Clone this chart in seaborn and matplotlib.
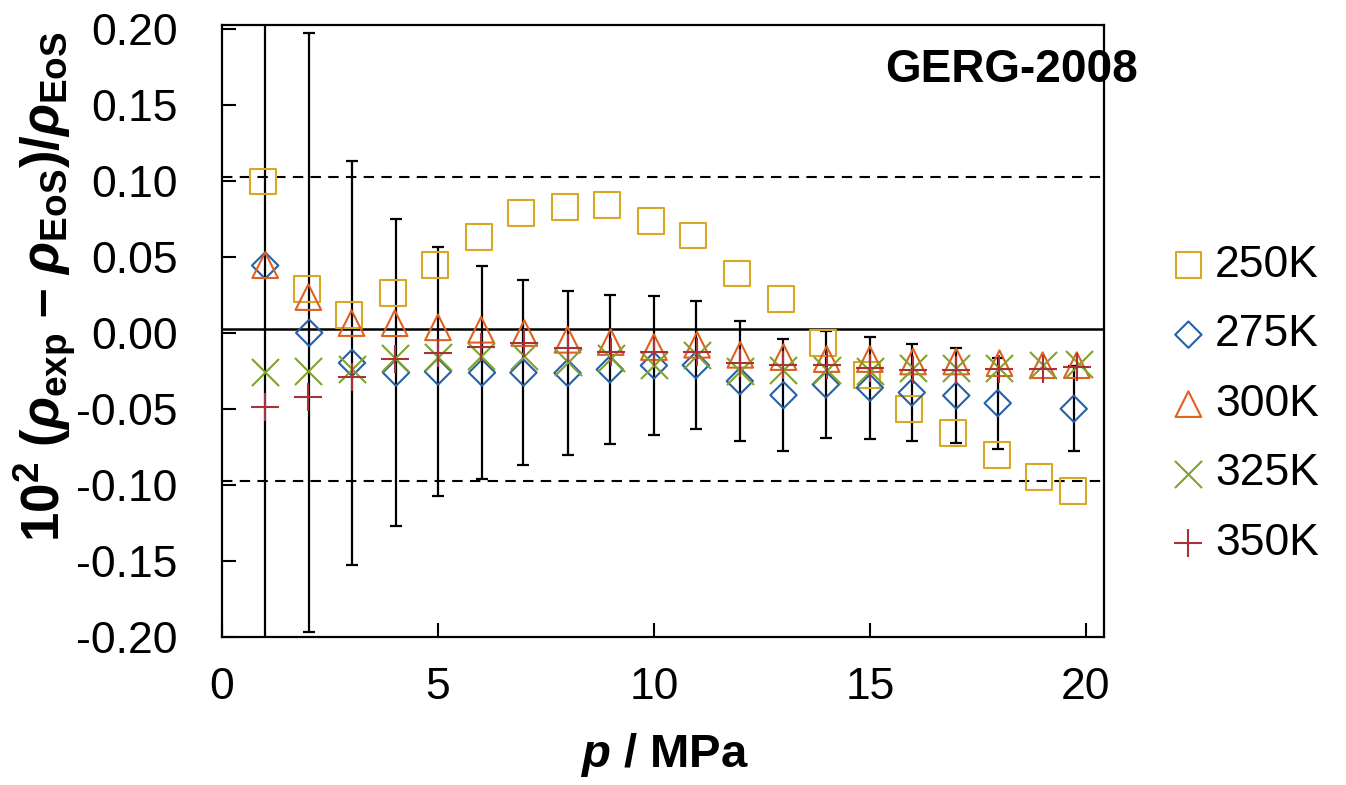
import numpy as np
import matplotlib
matplotlib.use("Agg")
import matplotlib.pyplot as plt
import seaborn as sns

# data
p_250 = [0.95, 1.97, 2.94, 3.96, 4.93, 5.95, 6.92, 7.94, 8.91, 9.93,
         10.90, 11.92, 12.94, 13.91, 14.93, 15.90, 16.92, 17.94, 18.91, 19.70]
d_250 = [0.0996, 0.0287, 0.0118, 0.0261, 0.0445, 0.0630, 0.0787, 0.0827, 0.0840, 0.0735,
         0.0640, 0.0390, 0.0222, -0.0068, -0.0278, -0.0502, -0.0660, -0.0805, -0.0950, -0.1041]

p_275 = [1.0, 2.02, 3.01, 4.03, 5.0, 6.02, 6.98, 8.0, 8.98, 10.0,
         10.97, 11.99, 13.0, 13.98, 15.0, 15.97, 17.0, 17.96, 19.72]
d_275 = [0.0443, 0.0, -0.0198, -0.0262, -0.0255, -0.0262, -0.0262, -0.0264, -0.0241, -0.0215,
         -0.0213, -0.0318, -0.0410, -0.0340, -0.0361, -0.0393, -0.0413, -0.0463, -0.0500]
u_275 = [0.30, 0.197, 0.133, 0.101, 0.082, 0.070, 0.061, 0.054, 0.049, 0.0455,
         0.042, 0.0395, 0.037, 0.035, 0.0336, 0.0322, 0.031, 0.030, 0.028]

p_300 = [1, 2, 3, 4, 5, 6, 7, 8, 9, 10, 11, 12, 13, 14, 15, 16, 17, 18, 19, 19.79]
d_300 = [0.0445, 0.0235, 0.0064, 0.0063, 0.0036, 0.0020, -0.0002, -0.0046, -0.0061, -0.0094,
         -0.0079, -0.0145, -0.0160, -0.0173, -0.0173, -0.0189, -0.0189, -0.0200, -0.0213, -0.0213]

p_325 = [1, 2, 3, 4, 5, 6, 7, 8, 9, 10, 11, 12, 13, 14, 15, 16, 17, 18, 19, 19.84]
d_325 = [-0.0261, -0.0254, -0.0239, -0.0169, -0.0160, -0.0151, -0.0151, -0.0193, -0.0169, -0.0215,
         -0.0145, -0.0250, -0.0246, -0.0246, -0.0250, -0.0232, -0.0232, -0.0232, -0.0215, -0.0204]

p_350 = [1, 2, 3, 4, 5, 6, 7, 8, 9, 10, 11, 12, 13, 14, 15, 16, 17, 18, 19, 19.79]
d_350 = [-0.0489, -0.0425, -0.0294, -0.0173, -0.0134, -0.0092, -0.0068, -0.0101, -0.0123, -0.0123,
         -0.0123, -0.0200, -0.0215, -0.0215, -0.0232, -0.0243, -0.0243, -0.0239, -0.0239, -0.0228]

labels = ["250K", "275K", "300K", "325K", "350K"]
colors = ["#D6A823", "#2461A8", "#E0601E", "#7FA32E", "#A8323A"]

sns.set_theme(style="ticks")
plt.rcParams["font.family"] = ["Liberation Sans", "DejaVu Sans"]
plt.rcParams["mathtext.fontset"] = "custom"
plt.rcParams["mathtext.rm"] = "Liberation Sans:bold"
plt.rcParams["mathtext.it"] = "Liberation Sans:bold:italic"
plt.rcParams["mathtext.bf"] = "Liberation Sans:bold"
plt.rcParams["text.color"] = "black"
plt.rcParams["axes.labelcolor"] = "black"
plt.rcParams["xtick.color"] = "black"
plt.rcParams["ytick.color"] = "black"

fig = plt.figure(figsize=(13.46, 7.85), dpi=100)
ax = fig.add_axes([0.1649, 0.1889, 0.6553, 0.7793])

# reference lines
ax.axhline(0.1025, color="black", lw=1.5, ls=(0, (5, 3.5)), zorder=1)
ax.axhline(-0.0975, color="black", lw=1.5, ls=(0, (5, 3.5)), zorder=1)
ax.axhline(0.0025, color="black", lw=1.8, zorder=1)

# uncertainty bars on the 275K series
ax.errorbar(p_275, d_275, yerr=u_275, fmt="none", ecolor="black",
            elinewidth=1.6, capsize=4.3, capthick=1.6, zorder=2)

# open markers
sns.scatterplot(x=p_250, y=d_250, marker="s", s=340, facecolor="none", edgecolor=colors[0],
                linewidth=1.5, label=labels[0], ax=ax, zorder=3)
sns.scatterplot(x=p_275, y=d_275, marker="D", s=180, facecolor="none", edgecolor=colors[1],
                linewidth=1.5, label=labels[1], ax=ax, zorder=3)
sns.scatterplot(x=p_300, y=d_300, marker="^", s=340, facecolor="none", edgecolor=colors[2],
                linewidth=1.5, label=labels[2], ax=ax, zorder=3)
sns.scatterplot(x=p_325, y=d_325, marker="x", s=380, color=colors[3],
                linewidth=1.5, label=labels[3], ax=ax, zorder=3)
sns.scatterplot(x=p_350, y=d_350, marker="+", s=380, color=colors[4],
                linewidth=1.5, label=labels[4], ax=ax, zorder=3)

ax.set_xlim(0, 20.42)
ax.set_ylim(-0.20, 0.2026)
ax.set_xticks([0, 5, 10, 15, 20])
ax.set_yticks(np.arange(-0.20, 0.201, 0.05))
ax.set_yticklabels(["-0.20", "-0.15", "-0.10", "-0.05", "0.00", "0.05", "0.10", "0.15", "0.20"])

for side in ["left", "right", "top", "bottom"]:
    ax.spines[side].set_visible(True)
    ax.spines[side].set_linewidth(1.6)
    ax.spines[side].set_color("black")

ax.tick_params(axis="y", direction="in", length=10, width=1.5, labelsize=32, pad=32, colors="black")
ax.tick_params(axis="x", direction="in", length=10, width=1.5, labelsize=32, pad=22, colors="black")

ax.set_xlabel(r"$p$ / MPa", fontsize=34, fontweight="bold")
ax.xaxis.set_label_coords(0.502, -0.154)
ax.set_ylabel(r"10$^2$ ($\rho_\mathrm{exp}$ – $\rho_\mathrm{EoS}$)/$\rho_\mathrm{EoS}$",
              fontsize=38, fontweight="bold")
ax.yaxis.set_label_coords(-0.163, 0.572)

fig.text(0.8455, 0.911, "GERG-2008", ha="right", va="center", fontsize=33, fontweight="bold")

leg = ax.legend(loc="center left", bbox_to_anchor=(0.873, 0.485), bbox_transform=fig.transFigure,
                frameon=False, fontsize=32, handlelength=0.6, handletextpad=0.3,
                labelspacing=0.64, borderpad=0, borderaxespad=0)

fig.savefig("out.png", dpi=100)
